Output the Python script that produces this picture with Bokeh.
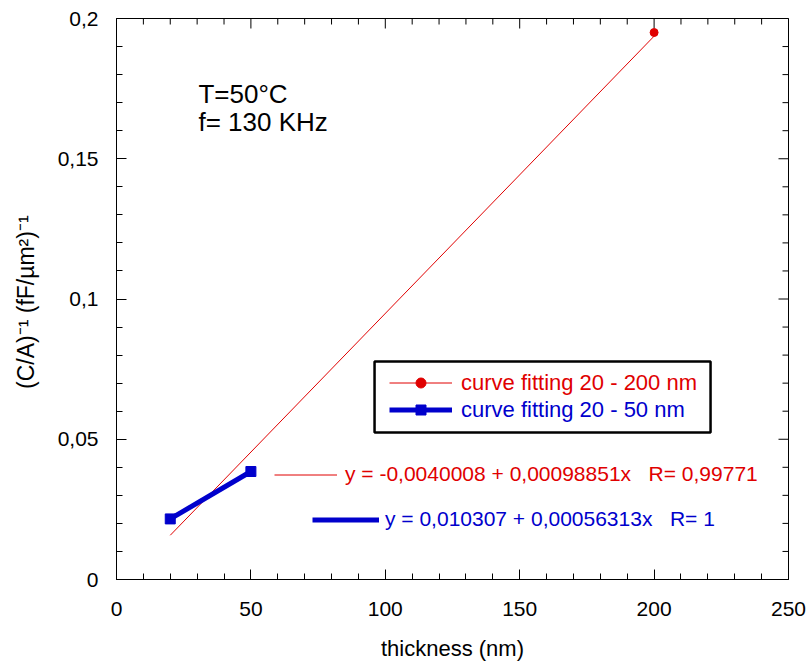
import math
from bokeh.plotting import figure
from bokeh.models import (Range1d, LinearAxis, FixedTicker, Legend, LegendItem,
                          BoxAnnotation, Label)
from bokeh.embed import file_html
from bokeh.resources import INLINE

# ---- data ----
x_ticks = [0, 50, 100, 150, 200, 250]
x_minor = [10, 20, 30, 40, 60, 70, 80, 90, 110, 120, 130, 140, 160, 170, 180, 190,
           210, 220, 230, 240]
y_ticks = [0, 0.05, 0.1, 0.15, 0.2]
y_tick_labels = ["0", "0,05", "0,1", "0,15", "0,2"]
y_minor = [0.01, 0.02, 0.03, 0.04, 0.06, 0.07, 0.08, 0.09, 0.11, 0.12, 0.13, 0.14,
           0.16, 0.17, 0.18, 0.19]

red_point_x = [200]
red_point_y = [0.195]
red_fit_range = [20, 200]
red_intercept = -0.0040008
red_slope = 0.00098851

blue_x = [20, 50]
blue_y = [0.0216, 0.0385]

RED = "#e00000"
BLUE = "#0000cc"
FONT = "Liberation Sans"
X0, X1 = 0, 250
Y0, Y1 = 0, 0.2

p = figure(width=807, height=666, output_backend="svg", toolbar_location=None,
           x_range=Range1d(X0, X1), y_range=Range1d(Y0, Y1),
           x_axis_location=None, y_axis_location=None,
           min_border_left=116, min_border_right=19, min_border_top=18,
           min_border_bottom=87)
p.grid.visible = False
p.outline_line_color = "black"
p.outline_line_width = 1
p.background_fill_color = "white"
p.border_fill_color = "white"


def style_axis(ax):
    ax.axis_line_color = "black"
    ax.major_tick_line_color = "black"
    ax.minor_tick_line_color = "black"
    ax.major_tick_in = 10
    ax.major_tick_out = 0
    ax.minor_tick_in = 6
    ax.minor_tick_out = 0
    ax.major_label_text_font = FONT
    ax.major_label_text_color = "black"
    ax.major_label_text_font_size = "21px"
    ax.axis_label_text_color = "black"


xb = LinearAxis(ticker=FixedTicker(ticks=x_ticks, minor_ticks=x_minor))
style_axis(xb)
xb.major_label_standoff = 22
xb.axis_label = "thickness (nm)"
xb.axis_label_text_font = FONT
xb.axis_label_text_font_size = "22px"
xb.axis_label_text_font_style = "normal"
xb.axis_label_standoff = 17
p.add_layout(xb, "below")

yl = LinearAxis(ticker=FixedTicker(ticks=y_ticks, minor_ticks=y_minor))
style_axis(yl)
yl.major_label_standoff = 18
yl.major_label_overrides = {t: s for t, s in zip(y_ticks, y_tick_labels)}
yl.axis_label = "(C/A)\u207b\u00b9  (fF/\u00b5m\u00b2)\u207b\u00b9"
yl.axis_label_text_font = FONT
yl.axis_label_text_font_size = "23px"
yl.axis_label_text_font_style = "normal"
yl.axis_label_standoff = 16
p.add_layout(yl, "left")

# ---- inward ticks on the top and right edges (clipped to the frame) ----
p.scatter(x_ticks, [Y1] * len(x_ticks), marker="dash", size=20, angle=math.pi / 2,
          line_color="black", line_width=1)
p.scatter(x_minor, [Y1] * len(x_minor), marker="dash", size=12, angle=math.pi / 2,
          line_color="black", line_width=1)
p.scatter([X1] * len(y_ticks), y_ticks, marker="dash", size=20,
          line_color="black", line_width=1)
p.scatter([X1] * len(y_minor), y_minor, marker="dash", size=12,
          line_color="black", line_width=1)

# ---- series ----
red_fit_y = [red_intercept + red_slope * x for x in red_fit_range]
r_line = p.line(red_fit_range, red_fit_y, line_color=RED, line_width=1)
r_pts = p.scatter(red_point_x, red_point_y, marker="circle", size=8,
                  fill_color=RED, line_color=RED)

b_line = p.line(blue_x, blue_y, line_color=BLUE, line_width=5)
b_pts = p.scatter(blue_x, blue_y, marker="square", size=10,
                  fill_color=BLUE, line_color=BLUE)

# ---- legend box ----
p.add_layout(BoxAnnotation(left=96.0, right=221.0, bottom=0.0524, top=0.0777,
                           fill_alpha=0, line_color="black", line_alpha=1,
                           line_width=2.5))


def make_legend(items, color, loc, size, gw, standoff):
    lg = Legend(items=items, location=loc, border_line_color=None,
                background_fill_alpha=0, padding=0, margin=0, spacing=0,
                label_text_font=FONT, label_text_font_size=size,
                label_text_color=color, glyph_width=gw, glyph_height=25,
                label_height=25, label_standoff=standoff)
    p.add_layout(lg, "center")
    return lg


make_legend([LegendItem(label="curve fitting 20 - 200 nm", renderers=[r_line, r_pts])],
            RED, (273, 183.5), "22px", 63, 9)
make_legend([LegendItem(label="curve fitting 20 - 50 nm", renderers=[b_line, b_pts])],
            BLUE, (273, 156.5), "22px", 63, 9)
make_legend([LegendItem(label="y = -0,0040008 + 0,00098851x   R= 0,99771",
                        renderers=[r_line])],
            RED, (158, 92.5), "21px", 63, 8)
make_legend([LegendItem(label="y = 0,010307 + 0,00056313x   R= 1",
                        renderers=[b_line])],
            BLUE, (196, 47.5), "21px", 67, 6)

# ---- annotation text ----
p.add_layout(Label(x=30.5, y=0.1679, text="T=50\u00b0C", text_font=FONT,
                   text_font_size="26px", text_color="black"))
p.add_layout(Label(x=30.5, y=0.1576, text="f= 130 KHz", text_font=FONT,
                   text_font_size="26px", text_color="black"))

open("out.html", "w").write(file_html(p, INLINE))
